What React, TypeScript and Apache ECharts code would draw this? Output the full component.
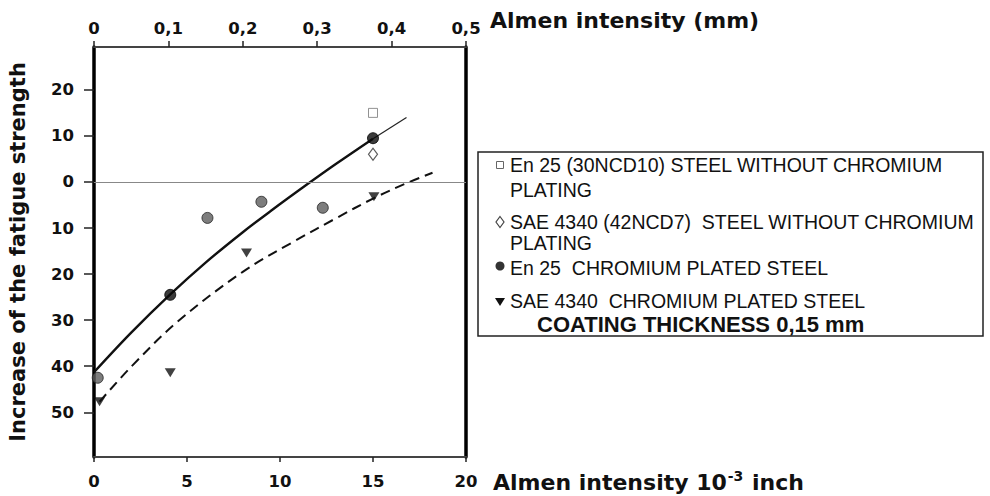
import React, { useEffect, useRef } from 'react';
import * as echarts from 'echarts';

// Tick values
const bottomTickMax = 20;
const topTickMax = 0.5;
const yTickValues = [20, 10, 0, -10, -20, -30, -40, -50];

// Measured points
const squareX = [15.0];
const squareY = [15.0];
const diamondX = [15.0];
const diamondY = [6.0];
const circleX = [0.2, 4.1, 6.1, 9.0, 12.3, 15.0];
const circleY = [-42.5, -24.5, -7.8, -4.3, -5.6, 9.5];
const circleDark = [false, true, false, false, false, true];
const triX = [0.3, 4.1, 8.2, 15.05];
const triY = [-47.7, -41.4, -15.4, -3.2];

// Fitted curves
const solidX = [0, 2, 4.1, 6, 8, 9.5, 11.5, 13, 15];
const solidY = [-41.3, -32.7, -24.4, -17.5, -10.9, -6.3, -0.4, 3.9, 9.4];
const solidTailX = [15, 16.8];
const solidTailY = [9.4, 14.0];
const dashX = [0.3, 2, 4.5, 8, 10.8, 13, 15, 16.9, 18.2];
const dashY = [-47.7, -40.1, -30.3, -19.5, -12.8, -7.9, -3.6, -0.1, 2.0];

// Legend texts
const seriesNames = [
  'En 25 (30NCD10) STEEL WITHOUT CHROMIUM PLATING',
  'SAE 4340 (42NCD7) STEEL WITHOUT CHROMIUM PLATING',
  'En 25  CHROMIUM PLATED STEEL',
  'SAE 4340  CHROMIUM PLATED STEEL',
];
const legendLines = [
  'En 25 (30NCD10) STEEL WITHOUT CHROMIUM',
  'PLATING',
  'SAE 4340 (42NCD7)  STEEL WITHOUT CHROMIUM',
  'PLATING',
  'En 25  CHROMIUM PLATED STEEL',
  'SAE 4340  CHROMIUM PLATED STEEL',
];
const coatingNote = 'COATING THICKNESS 0,15 mm';

const pair = (xs: number[], ys: number[]) => xs.map((x, i) => [x, ys[i]]);

export default function App() {
  const ref = useRef<HTMLDivElement>(null);
  useEffect(() => {
    if (!ref.current) return;
    const chart = echarts.init(ref.current, undefined, { renderer: 'svg' });
    const boldFont = 'DejaVu Sans';
    const lblStyle = { fontFamily: boldFont, fontWeight: 'bold', fontSize: 16.5, color: '#111' };
    const nameStyleBase = { fontFamily: boldFont, fontWeight: 'bold', fontSize: 22, color: '#111' };
    const yMin = -59.7;
    const yMax = 29.3;
    const legendTextStyle = { fontSize: 19.5, fontFamily: 'Liberation Sans', fill: '#111', verticalAlign: 'middle' };
    const lineYs = [165, 190, 222, 243, 268, 301];

    const option: any = {
      animation: false,
      backgroundColor: '#ffffff',
      grid: { left: 94, top: 47, width: 372, height: 410, containLabel: false, outerBoundsMode: 'none' },
      xAxis: [
        {
          type: 'value', position: 'bottom', min: 0, max: bottomTickMax, interval: 5,
          name: '{a|Almen intensity 10}{s|-3}{a| inch}', nameLocation: 'end', nameGap: 27,
          nameTextStyle: {
            padding: [50, 0, 0, 0],
            rich: {
              a: { ...nameStyleBase, lineHeight: 26 },
              s: { fontFamily: boldFont, fontWeight: 'bold', fontSize: 14, color: '#111', verticalAlign: 'top', lineHeight: 26, padding: [0, 1, 0, 1] },
            },
          },
          axisLine: { show: true, onZero: false, lineStyle: { color: '#444', width: 2 } },
          axisTick: { show: true, inside: false, length: 5, lineStyle: { color: '#222', width: 1.5 } },
          axisLabel: { ...lblStyle, margin: 16 },
          splitLine: { show: false },
        },
        {
          type: 'value', position: 'top', min: 0, max: topTickMax, interval: 0.1,
          name: '{a|Almen intensity (mm)}', nameLocation: 'end', nameGap: 24,
          nameTextStyle: {
            padding: [0, 0, 54, 0],
            rich: { a: { ...nameStyleBase, lineHeight: 26 } },
          },
          axisLine: { show: true, onZero: false, lineStyle: { color: '#444', width: 2 } },
          axisTick: { show: true, inside: false, length: 6, lineStyle: { color: '#222', width: 1.5 } },
          axisLabel: {
            ...lblStyle, margin: 10,
            formatter: (v: number) => (v === 0 ? '0' : v.toFixed(1).replace('.', ',')),
          },
          splitLine: { show: false },
        },
      ],
      yAxis: [
        {
          type: 'value', position: 'left', min: yMin, max: yMax,
          name: 'Increase of the fatigue strength', nameLocation: 'middle', nameGap: 66,
          nameTextStyle: { fontFamily: boldFont, fontWeight: 'bold', fontSize: 21, color: '#111' },
          axisLine: { show: true, onZero: false, lineStyle: { color: '#000', width: 3.5 } },
          axisTick: { show: true, length: 10, customValues: yTickValues, lineStyle: { color: '#222', width: 1.5 } },
          axisLabel: { ...lblStyle, margin: 20, customValues: yTickValues, formatter: (v: number) => String(Math.abs(v)) },
          splitLine: { show: false },
        },
        {
          type: 'value', position: 'right', min: yMin, max: yMax,
          axisLine: { show: true, onZero: false, lineStyle: { color: '#000', width: 3.5 } },
          axisTick: { show: false }, axisLabel: { show: false }, splitLine: { show: false },
        },
      ],
      series: [
        {
          type: 'line', name: 'En 25 fit', data: pair(solidX, solidY), smooth: 0.35,
          symbol: 'none', lineStyle: { color: '#111', width: 2.4 }, z: 2,
          markLine: {
            silent: true, symbol: ['none', 'none'], label: { show: false },
            lineStyle: { color: '#888', width: 1, type: 'solid' },
            data: [{ yAxis: 0 }],
          },
        },
        {
          type: 'line', name: 'En 25 fit tail', data: pair(solidTailX, solidTailY),
          symbol: 'none', lineStyle: { color: '#222', width: 1.2 }, z: 2,
        },
        {
          type: 'line', name: 'SAE 4340 fit', data: pair(dashX, dashY), smooth: 0.35,
          symbol: 'none', lineStyle: { color: '#111', width: 2, type: [10, 6] }, z: 2,
        },
        {
          type: 'scatter', name: seriesNames[0], data: pair(squareX, squareY), symbol: 'rect', symbolSize: 9,
          itemStyle: { color: 'rgba(0,0,0,0)', borderColor: '#777', borderWidth: 1 }, z: 3,
        },
        {
          type: 'scatter', name: seriesNames[1], data: pair(diamondX, diamondY), symbol: 'diamond', symbolSize: [9, 12],
          itemStyle: { color: 'rgba(0,0,0,0)', borderColor: '#333', borderWidth: 1.2 }, z: 3,
        },
        {
          type: 'scatter', name: seriesNames[2], symbol: 'circle', symbolSize: 11,
          data: circleX.map((x, i) => ({
            value: [x, circleY[i]],
            itemStyle: circleDark[i]
              ? { color: '#0a0a0a', borderColor: '#000', borderWidth: 1 }
              : { color: '#5c5c5c', borderColor: '#222', borderWidth: 1 },
          })),
          z: 4,
        },
        {
          type: 'scatter', name: seriesNames[3], data: pair(triX, triY), symbol: 'triangle', symbolRotate: 180,
          symbolSize: [11, 9], itemStyle: { color: '#111' }, z: 4,
        },
      ],
      graphic: [
        { type: 'rect', silent: true, shape: { x: 478, y: 152, width: 505, height: 184 }, style: { fill: 'none', stroke: '#222', lineWidth: 1.5 } },
        { type: 'rect', silent: true, shape: { x: 496.5, y: 161.5, width: 7, height: 7 }, style: { fill: 'none', stroke: '#666', lineWidth: 1 } },
        { type: 'polygon', silent: true, shape: { points: [[500, 216.5], [504, 222], [500, 227.5], [496, 222]] }, style: { fill: 'none', stroke: '#444', lineWidth: 1.2 } },
        { type: 'circle', silent: true, shape: { cx: 500, cy: 266, r: 4.5 }, style: { fill: '#333' } },
        { type: 'polygon', silent: true, shape: { points: [[495, 298], [505, 298], [500, 306]] }, style: { fill: '#111' } },
        ...legendLines.map((t, i) => ({
          type: 'text', silent: true, x: 510, y: lineYs[i], style: { ...legendTextStyle, text: t },
        })),
        {
          type: 'text', silent: true, x: 537, y: 324,
          style: { text: coatingNote, fontSize: 22, fontWeight: 'bold', fontFamily: 'Liberation Sans', fill: '#111', verticalAlign: 'middle' },
        },
      ],
    };
    chart.setOption(option);
    return () => chart.dispose();
  }, []);
  return (
    <div
      ref={ref}
      style={{ position: 'absolute', left: 0, top: 0, width: 990, height: 496, background: '#fff' }}
    />
  );
}
